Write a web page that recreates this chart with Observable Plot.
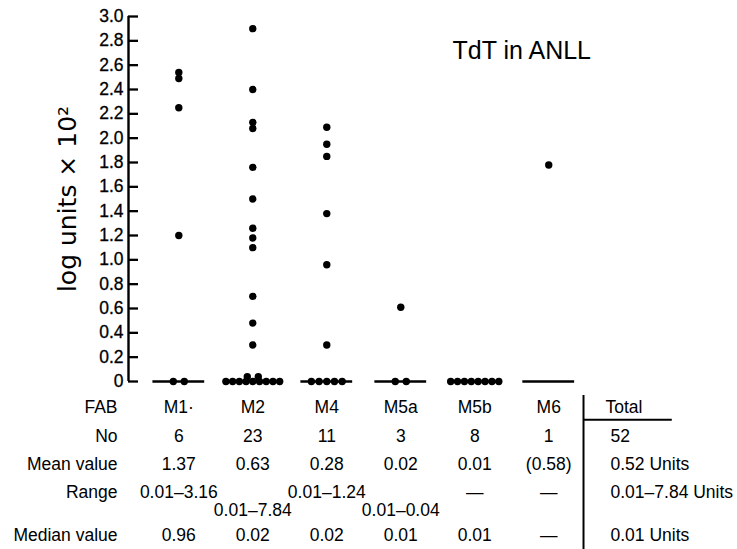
<!DOCTYPE html>
<html>
<head>
<meta charset="utf-8">
<script src="https://cdn.jsdelivr.net/npm/d3@7"></script>
<script src="https://cdn.jsdelivr.net/npm/@observablehq/plot@0.6"></script>
<style>
  html, body { margin: 0; padding: 0; background: white; }
  #chart svg { display: block; }
</style>
</head>
<body>
<div id="chart"></div>
<script>
// ---------- data ----------
const categories = ["M1", "M2", "M4", "M5a", "M5b", "M6"];
const m1  = [2.54, 2.49, 2.25, 1.20, 0, 0];
const m2  = [2.90, 2.40, 2.13, 2.08, 1.76, 1.50, 1.26, 1.18, 1.10, 0.70, 0.48, 0.30, 0.04, 0.04, 0, 0, 0, 0, 0, 0, 0, 0, 0];
const m4  = [2.09, 1.95, 1.85, 1.38, 0.96, 0.30, 0, 0, 0, 0, 0];
const m5a = [0.61, 0, 0];
const m5b = [0, 0, 0, 0, 0, 0, 0, 0];
const m6  = [1.78];
const yTicks = [0, 0.2, 0.4, 0.6, 0.8, 1.0, 1.2, 1.4, 1.6, 1.8, 2.0, 2.2, 2.4, 2.6, 2.8, 3.0];

const title = "TdT in ANLL";
const yLabel = "log units × 10²";

// table
const rowLabels = ["FAB", "No", "Mean value", "Range", "Median value"];
const fabLabels = ["M1·", "M2", "M4", "M5a", "M5b", "M6"];
const counts    = ["6", "23", "11", "3", "8", "1"];
const means     = ["1.37", "0.63", "0.28", "0.02", "0.01", "(0.58)"];
const ranges    = ["0.01–3.16", "0.01–7.84", "0.01–1.24", "0.01–0.04", "—", "—"];
const medians   = ["0.96", "0.02", "0.02", "0.01", "0.01", "—"];
const totals    = ["Total", "52", "0.52 Units", "0.01–7.84 Units", "0.01 Units"];
const rangeOnSecondLine = ["M2", "M5a"];

// ---------- layout ----------
const W = 737;
const font = "'Liberation Sans', Arial, Helvetica, sans-serif";
const xDomain = [-0.68, 7.2];
const marginLeft = 128, marginRight = 26;
const frameW = W - marginLeft - marginRight;
const span = frameW / (xDomain[1] - xDomain[0]); // px per category

const series = [m1, m2, m4, m5a, m5b, m6];
const points = [];
series.forEach((vals, i) => {
  const groups = d3.group(vals, v => v);
  for (const [v, arr] of groups) {
    const m = arr.length;
    const step = m > 1 ? (5.5 + 11 / m) / span : 0;
    arr.forEach((_, k) => points.push({category: categories[i], x: i + (k - (m - 1) / 2) * step, v}));
  }
});
const catIdx = categories.map((c, i) => i);

const dotPlot = Plot.plot({
  width: W, height: 395,
  marginLeft, marginRight, marginTop: 16, marginBottom: 14,
  x: {domain: xDomain, axis: null},
  y: {domain: [0, 3], axis: null},
  style: {fontFamily: font, fontSize: "17px", color: "black", background: "white"},
  marks: [
    Plot.ruleX([xDomain[0]], {y1: 0, y2: 3, strokeWidth: 2.4, stroke: "black"}),
    // inward y-axis ticks: full-width rules trimmed to 10px from the axis
    Plot.ruleY(yTicks, {y: d => d, insetRight: frameW - 10, strokeWidth: 2.3, stroke: "black"}),
    Plot.text(yTicks, {y: d => d, text: d => d === 0 ? "0" : d.toFixed(1), frameAnchor: "left", textAnchor: "end", dx: -5, fontSize: 17.5, fill: "black", stroke: "black", strokeWidth: 0.3}),
    Plot.ruleY(catIdx, {y: 0, x1: i => i - 0.35, x2: i => i + 0.35, strokeWidth: 2.5, stroke: "black"}),
    Plot.dot(points, {x: "x", y: "v", r: 3.7, fill: "black"}),
    Plot.text([yLabel], {text: d => d, frameAnchor: "left", textAnchor: "middle", rotate: -90, dx: -61, fontFamily: "'DejaVu Sans', sans-serif", fontSize: 25, fill: "black"}),
    Plot.text([title], {text: d => d, frameAnchor: "top-left", textAnchor: "start", lineAnchor: "middle", dx: 324, dy: 34, fontSize: 25, fill: "black"})
  ]
});

// table rows (row index positions)
const rowPos = {"FAB": 0, "No": 1, "Mean value": 2, "Range": 3, "Range2": 3.6, "Median value": 4.5};
const cells = [];
categories.forEach((c, i) => {
  cells.push({x: i, row: rowPos["FAB"], text: fabLabels[i]});
  cells.push({x: i, row: rowPos["No"], text: counts[i]});
  cells.push({x: i, row: rowPos["Mean value"], text: means[i]});
  cells.push({x: i, row: rangeOnSecondLine.includes(c) ? rowPos["Range2"] : rowPos["Range"], text: ranges[i]});
  cells.push({x: i, row: rowPos["Median value"], text: medians[i]});
});
const totalRows = ["FAB", "No", "Mean value", "Range", "Median value"];
const totalCells = totals.map((t, k) => ({row: rowPos[totalRows[k]], text: t}));
const dividerX = 5.47;
const totalRuleEnd = 6.67;

const tablePlot = Plot.plot({
  width: W, height: 154,
  marginLeft, marginRight, marginTop: 12, marginBottom: 14,
  x: {domain: xDomain, axis: null},
  y: {domain: [0, 4.5], reverse: true, axis: null},
  style: {fontFamily: font, fontSize: "17.5px", color: "black", background: "white"},
  marks: [
    Plot.text(rowLabels, {y: d => rowPos[d], text: d => d, frameAnchor: "left", textAnchor: "end", dx: -11, fontSize: 17.5, fill: "black"}),
    Plot.text(cells, {x: "x", y: "row", text: "text", fontSize: 17.5, fill: "black"}),
    Plot.text(totalCells.slice(0, 1), {x: dividerX, y: "row", text: "text", textAnchor: "start", dx: 22, fontSize: 17.5, fill: "black"}),
    Plot.text(totalCells.slice(1), {x: dividerX, y: "row", text: "text", textAnchor: "start", dx: 27, fontSize: 17.5, fill: "black"}),
    Plot.ruleX([dividerX], {insetTop: -12, insetBottom: -14, strokeWidth: 2, stroke: "black"}),
    Plot.ruleY([0.43], {x1: () => dividerX, x2: () => totalRuleEnd, strokeWidth: 2, stroke: "black"})
  ]
});

document.getElementById("chart").append(dotPlot, tablePlot);
</script>
</body>
</html>
